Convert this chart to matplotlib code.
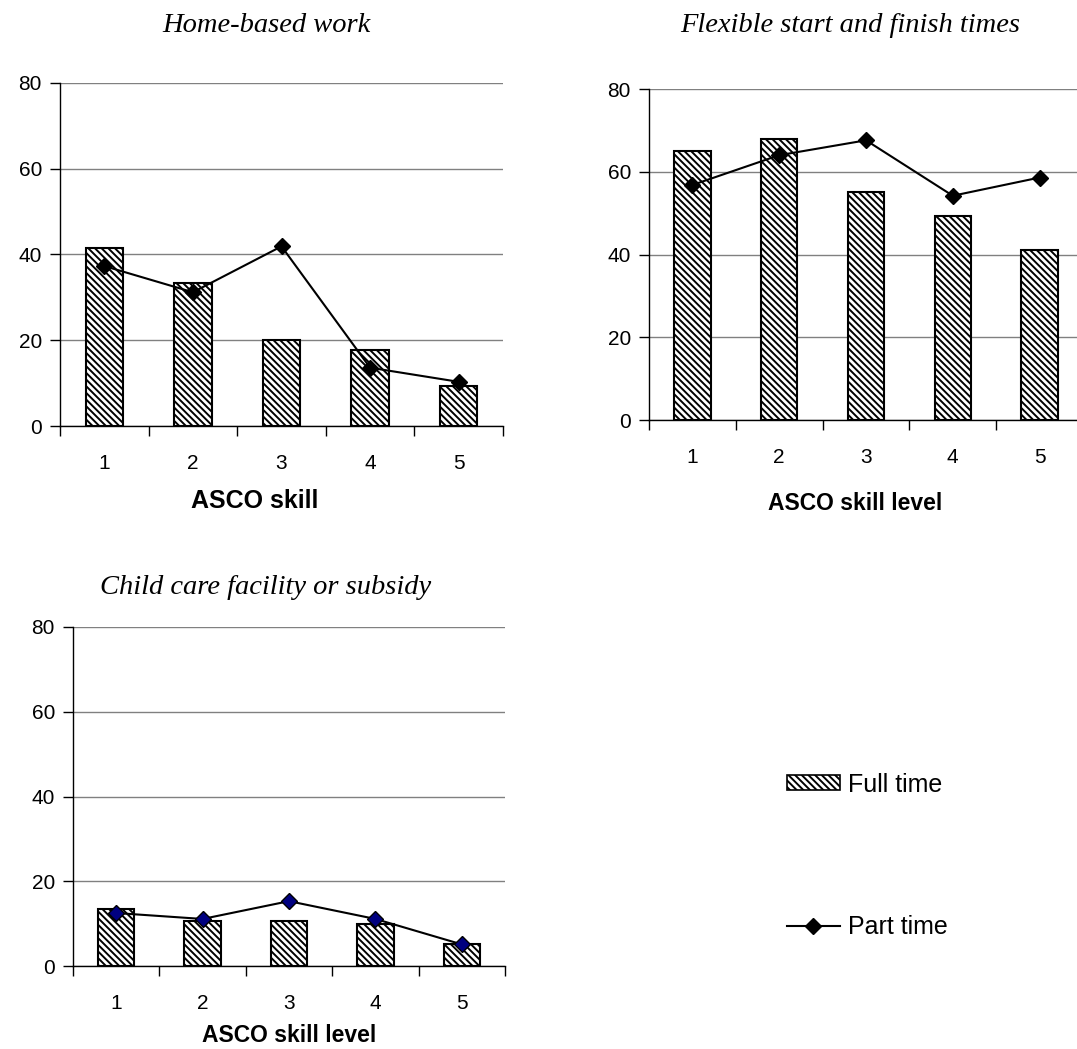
import matplotlib
matplotlib.use("Agg")
import matplotlib.pyplot as plt
from matplotlib.patches import Patch
from matplotlib.lines import Line2D

categories = [1, 2, 3, 4, 5]

home_full = [41.5, 33.4, 20.0, 17.7, 9.4]
home_part = [37.3, 31.2, 41.9, 13.6, 10.3]

flex_full = [64.9, 67.8, 55.2, 49.3, 41.2]
flex_part = [56.8, 64.0, 67.6, 54.2, 58.6]

child_full = [13.5, 10.7, 10.7, 9.9, 5.1]
child_part = [12.5, 11.1, 15.3, 11.1, 5.1]

titles = ["Home-based work", "Flexible start and finish times", "Child care facility or subsidy"]
xlabels = ["ASCO skill", "ASCO skill level", "ASCO skill level"]
yticks = [0, 20, 40, 60, 80]

plt.rcParams['hatch.linewidth'] = 1.4
plt.rcParams['font.family'] = ['Liberation Sans', 'DejaVu Sans']

W, H = 1077, 1049
fig = plt.figure(figsize=(W / 100, H / 100), dpi=100)
HATCH = '\\\\\\\\\\'


def px_axes(left, top, right, bottom):
    return fig.add_axes([left / W, 1 - bottom / H, (right - left) / W, (bottom - top) / H])


def draw(ax, full, part, marker_color, xlabel, label_dx, label_dy, label_size):
    ax.set_xlim(0.5, 5.5)
    ax.set_ylim(0, 80)
    ax.bar(categories, full, width=0.42, color='white', edgecolor='black',
           hatch=HATCH, linewidth=1.5, zorder=2)
    ax.plot(categories, part, color='black', lw=1.5, marker='D', markersize=8,
            markerfacecolor=marker_color, markeredgecolor='black', zorder=3)
    ax.set_yticks(yticks)
    ax.yaxis.grid(True, color='#808080', lw=1.0, zorder=0)
    ax.set_axisbelow(True)
    ax.set_xticks([0.5, 1.5, 2.5, 3.5, 4.5, 5.5])
    ax.set_xticklabels([])
    ax.set_xticks(categories, minor=True)
    ax.set_xticklabels([str(c) for c in categories], minor=True)
    ax.tick_params(axis='x', which='major', length=7, width=1, direction='out')
    ax.tick_params(axis='x', which='minor', length=0, pad=20, labelsize=15)
    ax.tick_params(axis='y', length=7, width=1, direction='out', pad=6, labelsize=15)
    for s in ['top', 'right']:
        ax.spines[s].set_visible(False)
    for s in ['left', 'bottom']:
        ax.spines[s].set_linewidth(1.0)
    ax.annotate(xlabel, xy=(0.5, 0), xycoords='axes fraction',
                xytext=(label_dx, -label_dy), textcoords='offset pixels',
                ha='center', va='center', fontsize=label_size, fontweight='bold')


ax1 = px_axes(60, 83, 503, 426)
draw(ax1, home_full, home_part, 'black', xlabels[0], -27, 75, 18)
ax2 = px_axes(649, 89, 1083, 420)
draw(ax2, flex_full, flex_part, 'black', xlabels[1], -11, 84, 16.5)
ax3 = px_axes(73, 627, 505, 966)
draw(ax3, child_full, child_part, '#000080', xlabels[2], 0, 70, 16.5)

tfont = dict(family='Liberation Serif', style='italic', fontsize=20.5, ha='center', va='center')
fig.text(266 / W, 1 - 25 / H, titles[0], **tfont)
fig.text(850 / W, 1 - 25 / H, titles[1], **tfont)
fig.text(266 / W, 1 - 588 / H, titles[2], **tfont)

handles = [Patch(facecolor='white', edgecolor='black', hatch=HATCH, lw=1.2),
           Line2D([], [], color='black', lw=1.5, marker='D', markersize=8,
                  markerfacecolor='black', markeredgecolor='black')]
fig.legend(handles, ['Full time', 'Part time'], loc='center left',
           bbox_to_anchor=(787 / W, 1 - 856 / H), frameon=False, fontsize=18,
           labelspacing=4.75, handlelength=2.1, handleheight=0.56,
           handletextpad=0.32, borderpad=0, borderaxespad=0)

fig.savefig('out.png', dpi=100, facecolor='white')
